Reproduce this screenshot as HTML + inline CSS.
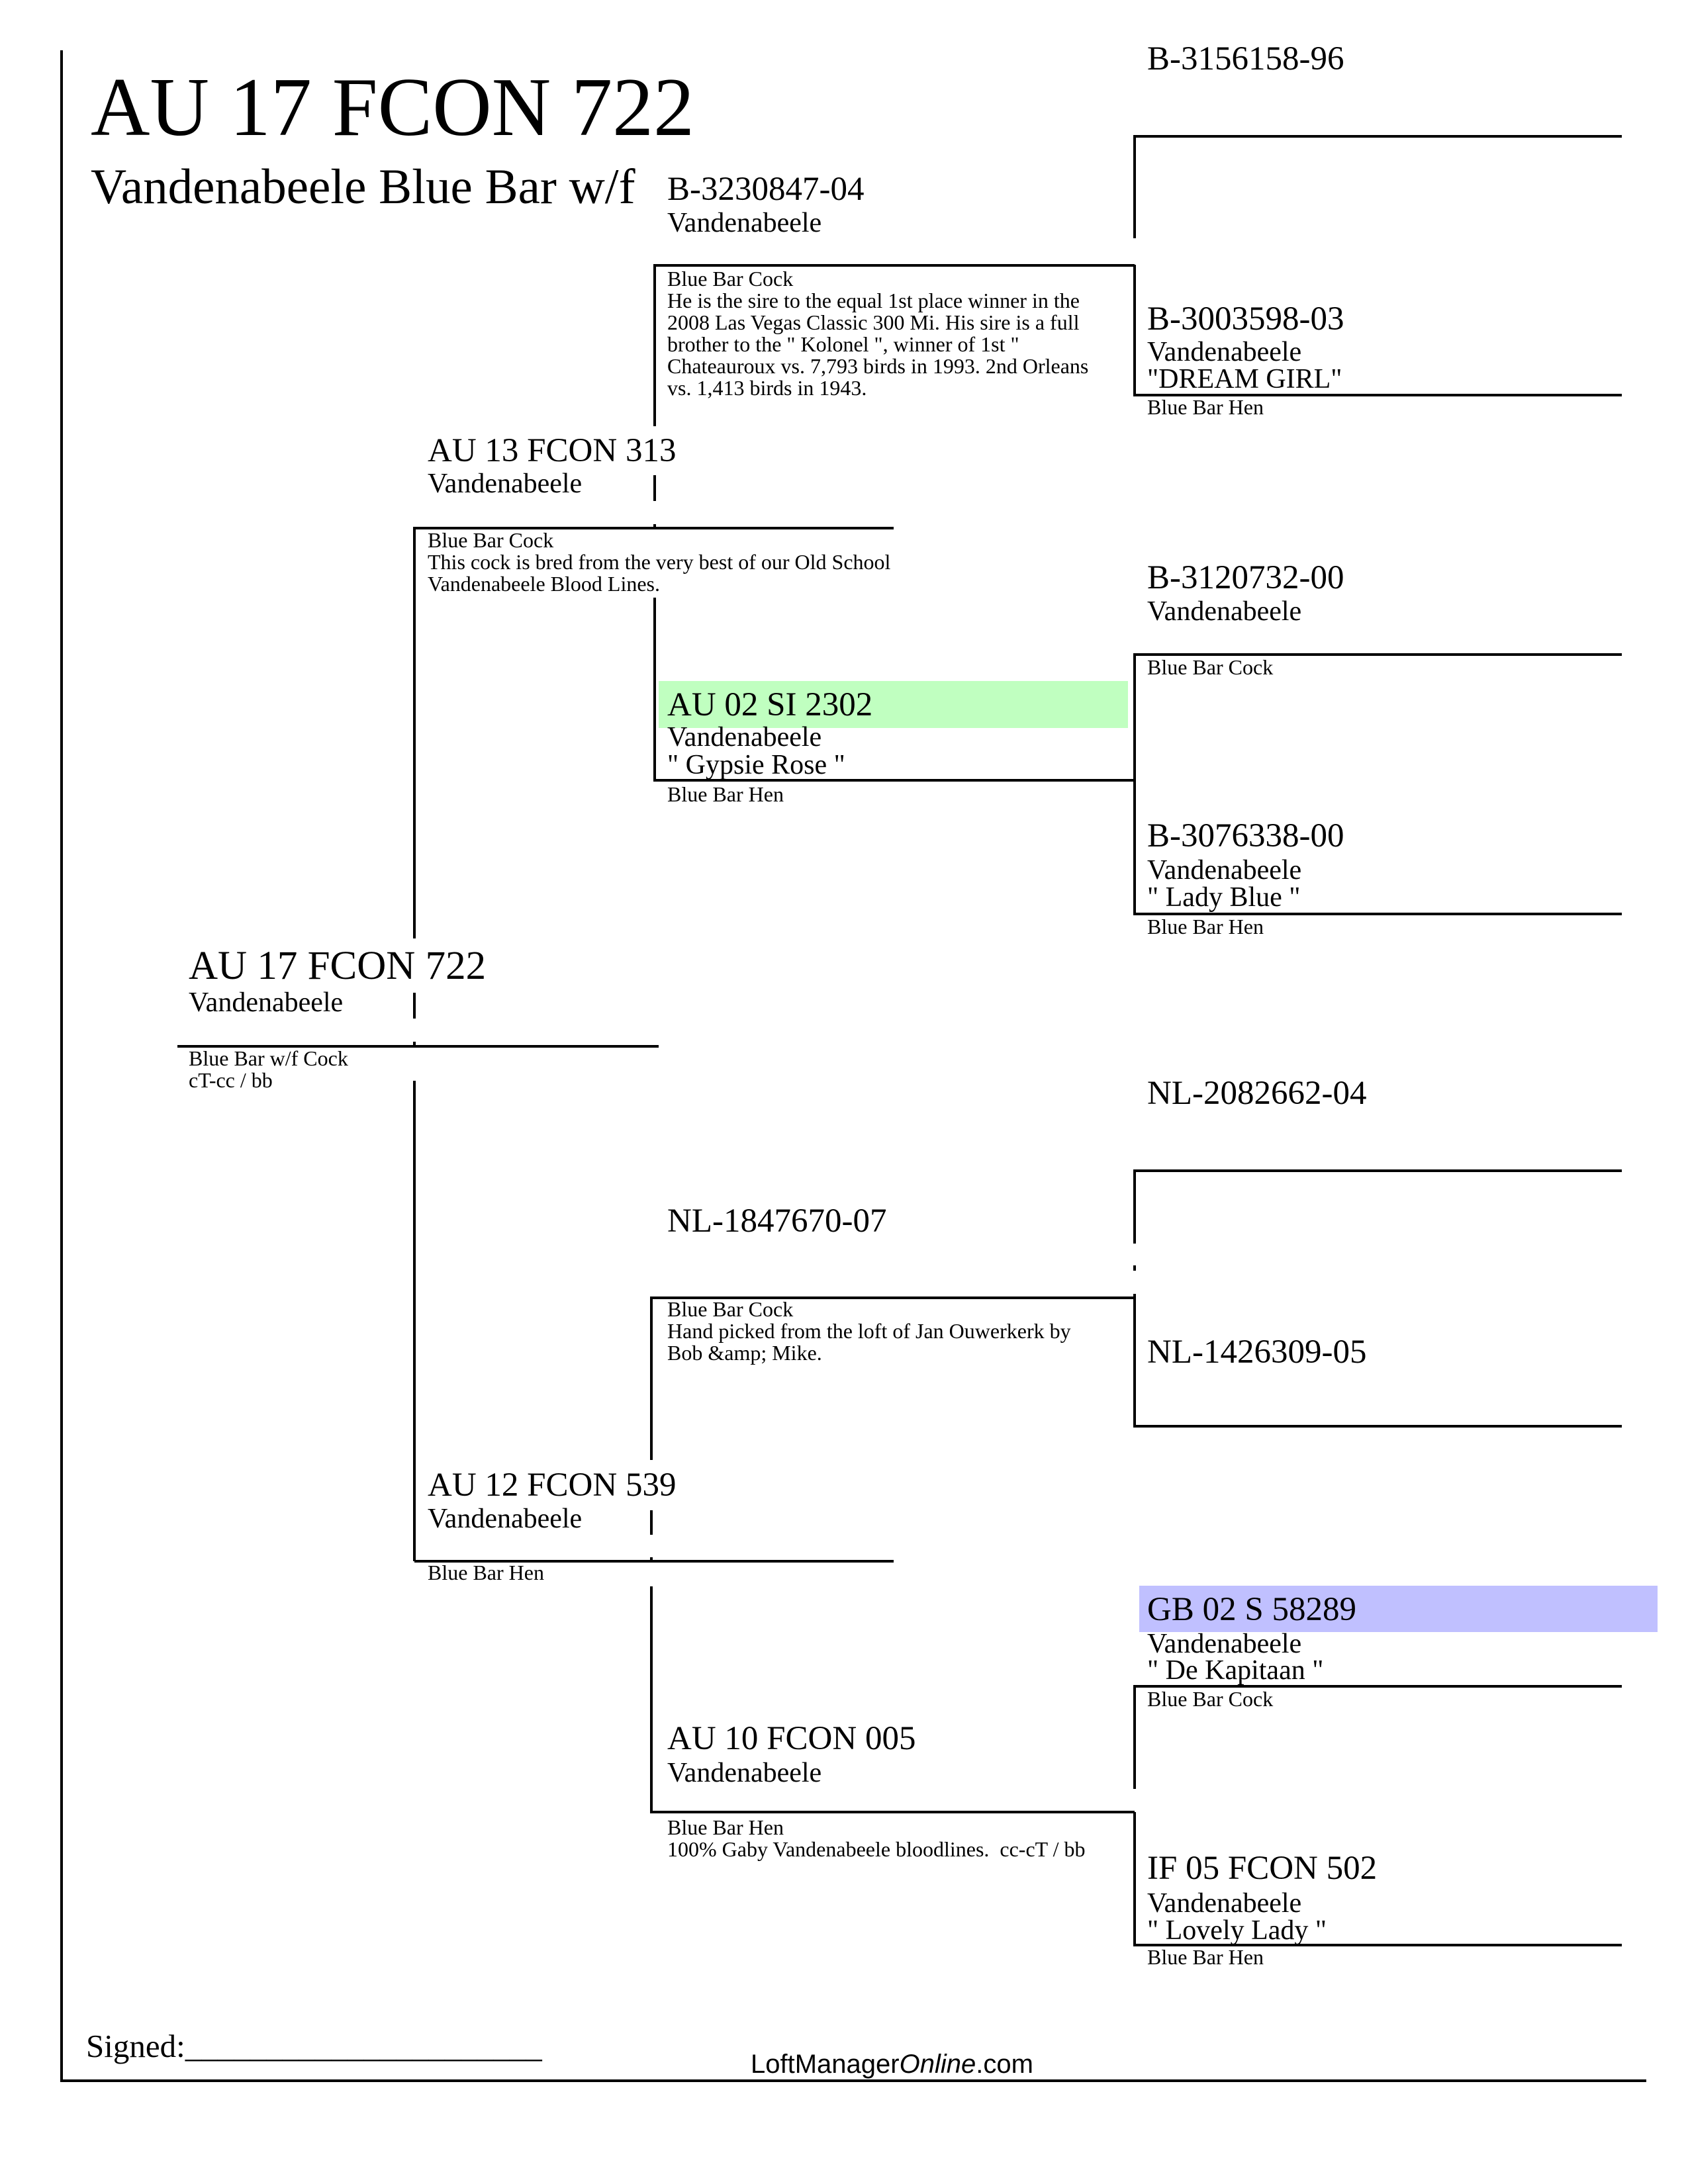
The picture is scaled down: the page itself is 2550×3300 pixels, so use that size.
<!DOCTYPE html>
<html><head><meta charset="utf-8"><style>
html,body{margin:0;padding:0;background:#fff;}
svg{display:block;}
text{font-family:"Liberation Serif","Times New Roman",serif;fill:#000;}
.id{font-size:51px;}
.v{font-size:42px;}
.s{font-size:32px;}
</style></head><body>
<svg width="2550" height="3300" viewBox="0 0 2550 3300" xmlns="http://www.w3.org/2000/svg">
<rect width="2550" height="3300" fill="#fff"/>
<rect x="995" y="1029" width="709" height="71" fill="#c0ffc0"/>
<rect x="1721" y="2396" width="783" height="70" fill="#c0c0ff"/>
<g stroke="#000" stroke-width="4" fill="none">
<line x1="93" y1="76" x2="93" y2="3144"/>
<line x1="91" y1="3144" x2="2487" y2="3144"/>
<polyline points="2450,206 1714,206 1714,360"/>
<polyline points="1714,400 1714,597 2450,597"/>
<polyline points="989,644 989,401 1714,401"/>
<line x1="989" y1="718" x2="989" y2="757"/>
<line x1="989" y1="792" x2="989" y2="798"/>
<polyline points="1350,798 626,798 626,1418"/>
<polyline points="989,903 989,1179 1714,1179"/>
<polyline points="2450,989 1714,989 1714,1381 2450,1381"/>
<line x1="626" y1="1500" x2="626" y2="1539"/>
<line x1="268" y1="1581" x2="995" y2="1581"/>
<line x1="626" y1="1574" x2="626" y2="1581"/>
<line x1="626" y1="1633" x2="626" y2="2359"/>
<polyline points="2450,1769 1714,1769 1714,1879"/>
<line x1="1714" y1="1912" x2="1714" y2="1920"/>
<polyline points="984,2206 984,1961 1714,1961"/>
<polyline points="1714,1955 1714,2155 2450,2155"/>
<line x1="984" y1="2282" x2="984" y2="2319"/>
<line x1="984" y1="2353" x2="984" y2="2359"/>
<line x1="626" y1="2359" x2="1350" y2="2359"/>
<polyline points="984,2397 984,2738 1714,2738"/>
<polyline points="2450,2548 1714,2548 1714,2703"/>
<polyline points="1714,2738 1714,2939 2450,2939"/>
</g>
<text x="137" y="204" font-size="126" textLength="912" lengthAdjust="spacingAndGlyphs">AU 17 FCON 722</text>
<text x="137" y="307" font-size="75">Vandenabeele Blue Bar w/f</text>

<text class="id" x="1733" y="105">B-3156158-96</text>
<text class="id" x="1733" y="498">B-3003598-03</text>
<text class="v" x="1733" y="545">Vandenabeele</text>
<text class="v" x="1733" y="586">"DREAM GIRL"</text>
<text class="s" x="1733" y="626">Blue Bar Hen</text>
<text class="id" x="1733" y="889">B-3120732-00</text>
<text class="v" x="1733" y="937">Vandenabeele</text>
<text class="s" x="1733" y="1019">Blue Bar Cock</text>
<text class="id" x="1733" y="1279">B-3076338-00</text>
<text class="v" x="1733" y="1328">Vandenabeele</text>
<text class="v" x="1733" y="1369">" Lady Blue "</text>
<text class="s" x="1733" y="1411">Blue Bar Hen</text>
<text class="id" x="1733" y="1668">NL-2082662-04</text>
<text class="id" x="1733" y="2059">NL-1426309-05</text>
<text class="id" x="1733" y="2448">GB 02 S 58289</text>
<text class="v" x="1733" y="2497">Vandenabeele</text>
<text class="v" x="1733" y="2537">" De Kapitaan "</text>
<text class="s" x="1733" y="2578">Blue Bar Cock</text>
<text class="id" x="1733" y="2839">IF 05 FCON 502</text>
<text class="v" x="1733" y="2889">Vandenabeele</text>
<text class="v" x="1733" y="2930">" Lovely Lady "</text>
<text class="s" x="1733" y="2968">Blue Bar Hen</text>

<text class="id" x="1008" y="302">B-3230847-04</text>
<text class="v" x="1008" y="350">Vandenabeele</text>
<text class="s" x="1008" y="432">Blue Bar Cock</text>
<text class="s" x="1008" y="465">He is the sire to the equal 1st place winner in the</text>
<text class="s" x="1008" y="498">2008 Las Vegas Classic 300 Mi. His sire is a full</text>
<text class="s" x="1008" y="531">brother to the " Kolonel ", winner of 1st "</text>
<text class="s" x="1008" y="564">Chateauroux vs. 7,793 birds in 1993. 2nd Orleans</text>
<text class="s" x="1008" y="597">vs. 1,413 birds in 1943.</text>
<text class="id" x="1008" y="1081">AU 02 SI 2302</text>
<text class="v" x="1008" y="1127">Vandenabeele</text>
<text class="v" x="1008" y="1169">" Gypsie Rose "</text>
<text class="s" x="1008" y="1211">Blue Bar Hen</text>
<text class="id" x="1008" y="1861">NL-1847670-07</text>
<text class="s" x="1008" y="1989">Blue Bar Cock</text>
<text class="s" x="1008" y="2022">Hand picked from the loft of Jan Ouwerkerk by</text>
<text class="s" x="1008" y="2055">Bob &amp;amp; Mike.</text>
<text class="id" x="1008" y="2643">AU 10 FCON 005</text>
<text class="v" x="1008" y="2692">Vandenabeele</text>
<text class="s" x="1008" y="2772">Blue Bar Hen</text>
<text class="s" x="1008" y="2805" xml:space="preserve">100% Gaby Vandenabeele bloodlines.  cc-cT / bb</text>

<text class="id" x="646" y="697">AU 13 FCON 313</text>
<text class="v" x="646" y="744">Vandenabeele</text>
<text class="s" x="646" y="827">Blue Bar Cock</text>
<text class="s" x="646" y="860">This cock is bred from the very best of our Old School</text>
<text class="s" x="646" y="893">Vandenabeele Blood Lines.</text>
<text class="id" x="646" y="2260">AU 12 FCON 539</text>
<text class="v" x="646" y="2308">Vandenabeele</text>
<text class="s" x="646" y="2387">Blue Bar Hen</text>

<text x="285" y="1479" font-size="61">AU 17 FCON 722</text>
<text class="v" x="285" y="1528">Vandenabeele</text>
<text class="s" x="285" y="1610">Blue Bar w/f Cock</text>
<text class="s" x="285" y="1643">cT-cc / bb</text>

<text x="130" y="3108" font-size="49">Signed:______________________</text>
<text x="1134" y="3132" font-size="40" style="font-family:'Liberation Sans',sans-serif">LoftManager<tspan font-style="italic">Online</tspan>.com</text>
</svg>
</body></html>
